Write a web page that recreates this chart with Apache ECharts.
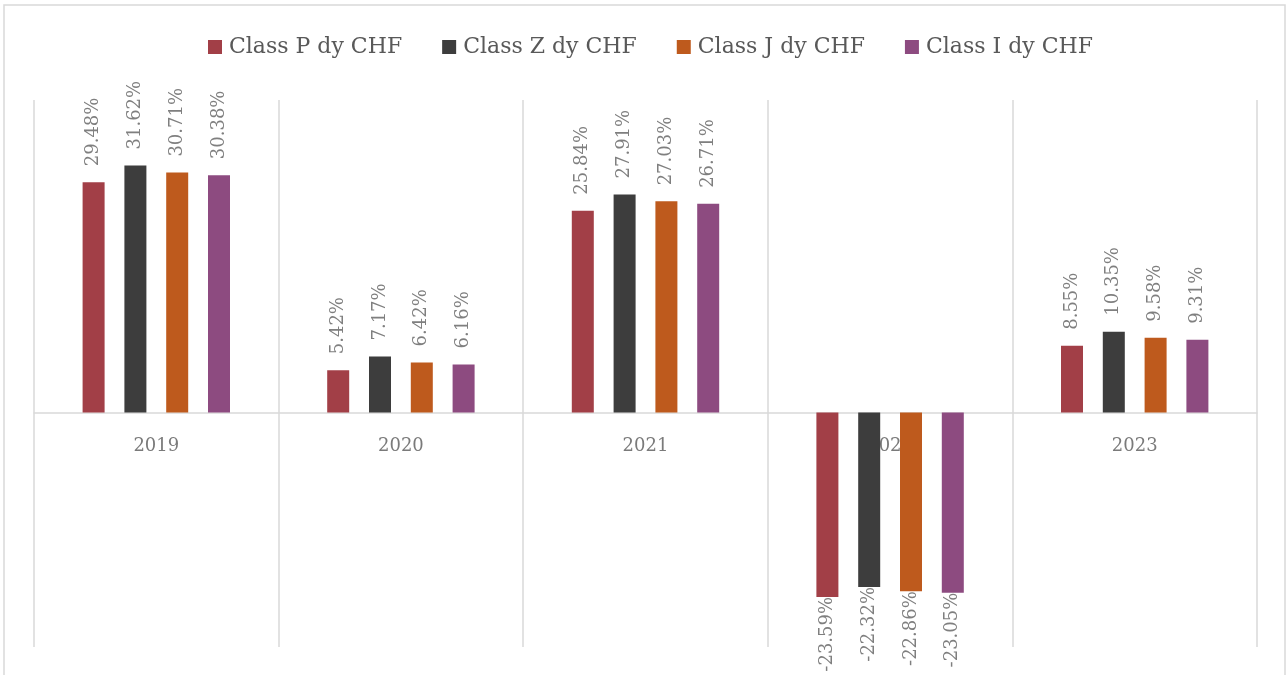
<!DOCTYPE html>
<html>
<head>
<meta charset="utf-8">
<script src="https://cdn.jsdelivr.net/npm/echarts@6/dist/echarts.min.js"></script>
<style>
html,body{margin:0;padding:0;background:#fff;}
#c{width:1287px;height:675px;}
</style>
</head>
<body>
<div id="c"></div>
<script>
var categories = ['2019', '2020', '2021', '2022', '2023'];
var seriesNames = ['Class P dy CHF', 'Class Z dy CHF', 'Class J dy CHF', 'Class I dy CHF'];
var classP = [29.48, 5.42, 25.84, -23.59, 8.55];
var classZ = [31.62, 7.17, 27.91, -22.32, 10.35];
var classJ = [30.71, 6.42, 27.03, -22.86, 9.58];
var classI = [30.38, 6.16, 26.71, -23.05, 9.31];
var colors = ['#A23F47', '#3D3D3D', '#BE5A1D', '#8D4B80'];

var FONT = 'DejaVu Serif';
function makeData(arr) {
  return arr.map(function (v) {
    if (v >= 0) {
      return { value: v, label: { position: 'top', align: 'left', verticalAlign: 'middle', distance: 16 } };
    }
    return { value: v, label: { position: 'bottom', align: 'right', verticalAlign: 'middle', distance: 0 } };
  });
}
var allValues = [classP, classZ, classJ, classI];
var series = allValues.map(function (arr, i) {
  return {
    name: seriesNames[i],
    type: 'bar',
    data: makeData(arr),
    barWidth: 22,
    barGap: '90%',
    z: 3,
    itemStyle: { color: colors[i] },
    label: {
      show: true,
      rotate: 90,
      color: '#7F7F7F',
      fontFamily: FONT,
      fontSize: 18,
      formatter: function (p) { return p.value.toFixed(2) + '%'; }
    }
  };
});
// category labels anchored on the zero line (drawn beneath the bars)
series.push({
  name: 'catLabels',
  type: 'scatter',
  symbolSize: 0,
  silent: true,
  z: 1,
  data: categories.map(function (c) { return [c, 0]; }),
  label: {
    show: true,
    position: 'bottom',
    distance: 25,
    fontFamily: FONT,
    fontSize: 18,
    color: '#595959',
    formatter: function (p) { return p.value[0]; }
  }
});

var chart = echarts.init(document.getElementById('c'));
chart.setOption({
  animation: false,
  color: colors,
  graphic: [{
    type: 'rect',
    shape: { x: 4, y: 5, width: 1281, height: 720 },
    style: { fill: 'none', stroke: '#D9D9D9', lineWidth: 1.5 },
    z: -10, silent: true
  }],
  legend: {
    top: 31,
    left: 203,
    itemWidth: 14,
    itemHeight: 14,
    itemGap: 40,
    icon: 'rect',
    textStyle: { fontFamily: FONT, fontSize: 22, color: '#595959', padding: [0, 0, 0, 2] },
    data: seriesNames
  },
  grid: { left: 34, right: 30, top: 100, bottom: 28, containLabel: false, outerBoundsMode: 'none' },
  xAxis: {
    type: 'category',
    data: categories,
    axisTick: { show: false },
    axisLine: { show: true, onZero: true, lineStyle: { color: '#D9D9D9', width: 1.5 } },
    axisLabel: { show: false },
    splitLine: { show: true, lineStyle: { color: '#D9D9D9', width: 1.5 } }
  },
  yAxis: {
    type: 'value',
    min: -30,
    max: 40,
    interval: 10,
    show: false,
    splitLine: { show: false }
  },
  series: series
});
</script>
</body>
</html>
